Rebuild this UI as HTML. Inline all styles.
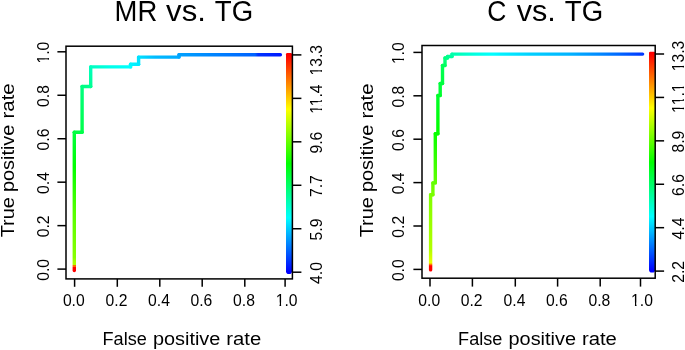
<!DOCTYPE html>
<html><head><meta charset="utf-8"><style>
html,body{margin:0;padding:0;background:#fff;width:685px;height:350px;overflow:hidden;}
svg{display:block;font-family:"Liberation Sans", sans-serif;will-change:transform;}
</style></head><body><svg width="685" height="350" viewBox="0 0 685 350" font-family='"Liberation Sans", sans-serif'><defs><linearGradient id="g1" gradientUnits="userSpaceOnUse" x1="74.3" y1="270.5" x2="74.3" y2="132.3"><stop offset="0.0000" stop-color="#ff0000"/><stop offset="0.0213" stop-color="#ff0000"/><stop offset="0.0217" stop-color="#ff0000"/><stop offset="0.0239" stop-color="#ff6a00"/><stop offset="0.0362" stop-color="#ff6a00"/><stop offset="0.0391" stop-color="#b2ff00"/><stop offset="0.0426" stop-color="#b1ff00"/><stop offset="0.0615" stop-color="#aaff00"/><stop offset="0.0638" stop-color="#a8ff00"/><stop offset="0.0851" stop-color="#91ff00"/><stop offset="0.0941" stop-color="#88ff00"/><stop offset="0.1064" stop-color="#86ff00"/><stop offset="0.1277" stop-color="#83ff00"/><stop offset="0.1489" stop-color="#80ff00"/><stop offset="0.1702" stop-color="#7cff00"/><stop offset="0.1915" stop-color="#79ff00"/><stop offset="0.2128" stop-color="#76ff00"/><stop offset="0.2340" stop-color="#73ff00"/><stop offset="0.2553" stop-color="#6fff00"/><stop offset="0.2766" stop-color="#6cff00"/><stop offset="0.2979" stop-color="#69ff00"/><stop offset="0.3191" stop-color="#66ff00"/><stop offset="0.3404" stop-color="#62ff00"/><stop offset="0.3617" stop-color="#5fff00"/><stop offset="0.3830" stop-color="#5cff00"/><stop offset="0.4043" stop-color="#58ff00"/><stop offset="0.4255" stop-color="#55ff00"/><stop offset="0.4269" stop-color="#55ff00"/><stop offset="0.4468" stop-color="#50ff00"/><stop offset="0.4681" stop-color="#4aff00"/><stop offset="0.4894" stop-color="#45ff00"/><stop offset="0.5106" stop-color="#3fff00"/><stop offset="0.5319" stop-color="#3aff00"/><stop offset="0.5532" stop-color="#34ff00"/><stop offset="0.5745" stop-color="#2fff00"/><stop offset="0.5957" stop-color="#29ff00"/><stop offset="0.6170" stop-color="#24ff00"/><stop offset="0.6383" stop-color="#1eff00"/><stop offset="0.6596" stop-color="#19ff00"/><stop offset="0.6809" stop-color="#13ff00"/><stop offset="0.7021" stop-color="#0eff00"/><stop offset="0.7234" stop-color="#08ff00"/><stop offset="0.7447" stop-color="#03ff00"/><stop offset="0.7660" stop-color="#00ff03"/><stop offset="0.7872" stop-color="#00ff09"/><stop offset="0.8085" stop-color="#00ff0e"/><stop offset="0.8298" stop-color="#00ff14"/><stop offset="0.8511" stop-color="#00ff19"/><stop offset="0.8723" stop-color="#00ff1f"/><stop offset="0.8936" stop-color="#00ff24"/><stop offset="0.9149" stop-color="#00ff2a"/><stop offset="0.9362" stop-color="#00ff2f"/><stop offset="0.9574" stop-color="#00ff35"/><stop offset="0.9787" stop-color="#00ff3a"/><stop offset="1.0000" stop-color="#00ff40"/></linearGradient><linearGradient id="g2" gradientUnits="userSpaceOnUse" x1="74.3" y1="132.3" x2="82.1" y2="132.3"><stop offset="0.0000" stop-color="#00ff40"/><stop offset="0.3333" stop-color="#00ff43"/><stop offset="0.6667" stop-color="#00ff46"/><stop offset="1.0000" stop-color="#00ff49"/></linearGradient><linearGradient id="g3" gradientUnits="userSpaceOnUse" x1="82.1" y1="132.3" x2="82.1" y2="86.5"><stop offset="0.0000" stop-color="#00ff49"/><stop offset="0.0625" stop-color="#00ff4c"/><stop offset="0.1250" stop-color="#00ff50"/><stop offset="0.1875" stop-color="#00ff53"/><stop offset="0.2500" stop-color="#00ff57"/><stop offset="0.3125" stop-color="#00ff5a"/><stop offset="0.3750" stop-color="#00ff5d"/><stop offset="0.4375" stop-color="#00ff61"/><stop offset="0.5000" stop-color="#00ff64"/><stop offset="0.5625" stop-color="#00ff68"/><stop offset="0.6250" stop-color="#00ff6b"/><stop offset="0.6875" stop-color="#00ff6e"/><stop offset="0.7500" stop-color="#00ff72"/><stop offset="0.8125" stop-color="#00ff75"/><stop offset="0.8750" stop-color="#00ff79"/><stop offset="0.9375" stop-color="#00ff7c"/><stop offset="1.0000" stop-color="#00ff80"/></linearGradient><linearGradient id="g4" gradientUnits="userSpaceOnUse" x1="82.1" y1="86.5" x2="90.7" y2="86.5"><stop offset="0.0000" stop-color="#00ff80"/><stop offset="0.3333" stop-color="#00ff86"/><stop offset="0.6667" stop-color="#00ff8c"/><stop offset="1.0000" stop-color="#00ff93"/></linearGradient><linearGradient id="g5" gradientUnits="userSpaceOnUse" x1="90.7" y1="86.5" x2="90.7" y2="66.9"><stop offset="0.0000" stop-color="#00ff93"/><stop offset="0.1429" stop-color="#00ff99"/><stop offset="0.2857" stop-color="#00ffa0"/><stop offset="0.4286" stop-color="#00ffa6"/><stop offset="0.5714" stop-color="#00ffac"/><stop offset="0.7143" stop-color="#00ffb3"/><stop offset="0.8571" stop-color="#00ffb9"/><stop offset="1.0000" stop-color="#00ffbf"/></linearGradient><linearGradient id="g6" gradientUnits="userSpaceOnUse" x1="90.7" y1="66.9" x2="130.6" y2="66.9"><stop offset="0.0000" stop-color="#00ffbf"/><stop offset="0.0714" stop-color="#00ffc5"/><stop offset="0.1429" stop-color="#00ffcb"/><stop offset="0.2143" stop-color="#00ffd1"/><stop offset="0.2857" stop-color="#00ffd7"/><stop offset="0.3571" stop-color="#00ffde"/><stop offset="0.4286" stop-color="#00ffe4"/><stop offset="0.5000" stop-color="#00ffea"/><stop offset="0.5013" stop-color="#00ffea"/><stop offset="0.5714" stop-color="#00ffed"/><stop offset="0.6429" stop-color="#00fff0"/><stop offset="0.7143" stop-color="#00fff3"/><stop offset="0.7857" stop-color="#00fff6"/><stop offset="0.8571" stop-color="#00fff9"/><stop offset="0.9286" stop-color="#00fffc"/><stop offset="1.0000" stop-color="#00ffff"/></linearGradient><linearGradient id="g7" gradientUnits="userSpaceOnUse" x1="130.6" y1="66.9" x2="130.6" y2="64.2"><stop offset="0.0000" stop-color="#00ffff"/><stop offset="0.5000" stop-color="#00fbff"/><stop offset="1.0000" stop-color="#00f7ff"/></linearGradient><linearGradient id="g8" gradientUnits="userSpaceOnUse" x1="130.6" y1="64.2" x2="138.6" y2="64.2"><stop offset="0.0000" stop-color="#00f7ff"/><stop offset="0.3333" stop-color="#00f2ff"/><stop offset="0.6667" stop-color="#00eeff"/><stop offset="1.0000" stop-color="#00eaff"/></linearGradient><linearGradient id="g9" gradientUnits="userSpaceOnUse" x1="138.6" y1="64.2" x2="138.6" y2="57.1"><stop offset="0.0000" stop-color="#00eaff"/><stop offset="0.3333" stop-color="#00e7ff"/><stop offset="0.6667" stop-color="#00e4ff"/><stop offset="1.0000" stop-color="#00e1ff"/></linearGradient><linearGradient id="g10" gradientUnits="userSpaceOnUse" x1="138.6" y1="57.1" x2="179" y2="57.1"><stop offset="0.0000" stop-color="#00e1ff"/><stop offset="0.0714" stop-color="#00dbff"/><stop offset="0.1429" stop-color="#00d4ff"/><stop offset="0.2143" stop-color="#00cdff"/><stop offset="0.2857" stop-color="#00c6ff"/><stop offset="0.3571" stop-color="#00c0ff"/><stop offset="0.4059" stop-color="#00bbff"/><stop offset="0.4286" stop-color="#00baff"/><stop offset="0.5000" stop-color="#00b8ff"/><stop offset="0.5714" stop-color="#00b6ff"/><stop offset="0.6429" stop-color="#00b4ff"/><stop offset="0.7143" stop-color="#00b2ff"/><stop offset="0.7857" stop-color="#00b0ff"/><stop offset="0.8571" stop-color="#00aeff"/><stop offset="0.9286" stop-color="#00acff"/><stop offset="1.0000" stop-color="#00aaff"/></linearGradient><linearGradient id="g11" gradientUnits="userSpaceOnUse" x1="179" y1="57.1" x2="179" y2="54.7"><stop offset="0.0000" stop-color="#00aaff"/><stop offset="0.5000" stop-color="#00a6ff"/><stop offset="1.0000" stop-color="#00a2ff"/></linearGradient><linearGradient id="g12" gradientUnits="userSpaceOnUse" x1="179" y1="54.7" x2="280.4" y2="54.7"><stop offset="0.0000" stop-color="#00a2ff"/><stop offset="0.0294" stop-color="#009fff"/><stop offset="0.0588" stop-color="#009cff"/><stop offset="0.0882" stop-color="#009aff"/><stop offset="0.1176" stop-color="#0097ff"/><stop offset="0.1471" stop-color="#0095ff"/><stop offset="0.1765" stop-color="#0092ff"/><stop offset="0.2059" stop-color="#0090ff"/><stop offset="0.2353" stop-color="#008dff"/><stop offset="0.2647" stop-color="#008bff"/><stop offset="0.2941" stop-color="#0088ff"/><stop offset="0.3235" stop-color="#0086ff"/><stop offset="0.3529" stop-color="#0083ff"/><stop offset="0.3824" stop-color="#0081ff"/><stop offset="0.4118" stop-color="#007eff"/><stop offset="0.4412" stop-color="#007cff"/><stop offset="0.4706" stop-color="#0079ff"/><stop offset="0.5000" stop-color="#0077ff"/><stop offset="0.5294" stop-color="#0074ff"/><stop offset="0.5588" stop-color="#0072ff"/><stop offset="0.5882" stop-color="#006fff"/><stop offset="0.6176" stop-color="#006dff"/><stop offset="0.6471" stop-color="#006aff"/><stop offset="0.6765" stop-color="#0068ff"/><stop offset="0.7059" stop-color="#0065ff"/><stop offset="0.7353" stop-color="#0063ff"/><stop offset="0.7495" stop-color="#0062ff"/><stop offset="0.7647" stop-color="#004aff"/><stop offset="0.7791" stop-color="#0033ff"/><stop offset="0.7941" stop-color="#0031ff"/><stop offset="0.8235" stop-color="#002eff"/><stop offset="0.8529" stop-color="#002aff"/><stop offset="0.8824" stop-color="#0027ff"/><stop offset="0.9118" stop-color="#0024ff"/><stop offset="0.9412" stop-color="#0020ff"/><stop offset="0.9706" stop-color="#001dff"/><stop offset="1.0000" stop-color="#0019ff"/></linearGradient><linearGradient id="cb13" gradientUnits="userSpaceOnUse" x1="0" y1="54.9" x2="0" y2="272.2"><stop offset="0" stop-color="#ff0000"/><stop offset="0.25" stop-color="#ffff00"/><stop offset="0.5" stop-color="#00ff00"/><stop offset="0.75" stop-color="#00ffff"/><stop offset="1" stop-color="#0000ff"/></linearGradient><linearGradient id="g14" gradientUnits="userSpaceOnUse" x1="430.6" y1="269.9" x2="430.6" y2="194.7"><stop offset="0.0000" stop-color="#ff0000"/><stop offset="0.0385" stop-color="#ff0000"/><stop offset="0.0532" stop-color="#ff0000"/><stop offset="0.0731" stop-color="#ff8000"/><stop offset="0.0769" stop-color="#ff9c00"/><stop offset="0.0931" stop-color="#eaff00"/><stop offset="0.1154" stop-color="#e3ff00"/><stop offset="0.1538" stop-color="#d6ff00"/><stop offset="0.1923" stop-color="#caff00"/><stop offset="0.2308" stop-color="#beff00"/><stop offset="0.2660" stop-color="#b2ff00"/><stop offset="0.2692" stop-color="#b2ff00"/><stop offset="0.3077" stop-color="#b0ff00"/><stop offset="0.3462" stop-color="#adff00"/><stop offset="0.3846" stop-color="#aaff00"/><stop offset="0.4231" stop-color="#a8ff00"/><stop offset="0.4615" stop-color="#a5ff00"/><stop offset="0.5000" stop-color="#a2ff00"/><stop offset="0.5385" stop-color="#a0ff00"/><stop offset="0.5769" stop-color="#9dff00"/><stop offset="0.6154" stop-color="#9aff00"/><stop offset="0.6538" stop-color="#98ff00"/><stop offset="0.6923" stop-color="#95ff00"/><stop offset="0.7308" stop-color="#92ff00"/><stop offset="0.7692" stop-color="#90ff00"/><stop offset="0.8077" stop-color="#8dff00"/><stop offset="0.8462" stop-color="#8aff00"/><stop offset="0.8846" stop-color="#88ff00"/><stop offset="0.9231" stop-color="#85ff00"/><stop offset="0.9615" stop-color="#82ff00"/><stop offset="1.0000" stop-color="#80ff00"/></linearGradient><linearGradient id="g15" gradientUnits="userSpaceOnUse" x1="430.6" y1="194.7" x2="432.9" y2="194.7"><stop offset="0.0000" stop-color="#80ff00"/><stop offset="0.5000" stop-color="#7dff00"/><stop offset="1.0000" stop-color="#7bff00"/></linearGradient><linearGradient id="g16" gradientUnits="userSpaceOnUse" x1="432.9" y1="194.7" x2="432.9" y2="182.9"><stop offset="0.0000" stop-color="#7bff00"/><stop offset="0.2500" stop-color="#76ff00"/><stop offset="0.5000" stop-color="#71ff00"/><stop offset="0.7500" stop-color="#6bff00"/><stop offset="1.0000" stop-color="#66ff00"/></linearGradient><linearGradient id="g17" gradientUnits="userSpaceOnUse" x1="432.9" y1="182.9" x2="435.3" y2="182.9"><stop offset="0.0000" stop-color="#66ff00"/><stop offset="0.5000" stop-color="#64ff00"/><stop offset="1.0000" stop-color="#62ff00"/></linearGradient><linearGradient id="g18" gradientUnits="userSpaceOnUse" x1="435.3" y1="182.9" x2="435.3" y2="133.8"><stop offset="0.0000" stop-color="#62ff00"/><stop offset="0.0588" stop-color="#5cff00"/><stop offset="0.1176" stop-color="#57ff00"/><stop offset="0.1765" stop-color="#52ff00"/><stop offset="0.2353" stop-color="#4dff00"/><stop offset="0.2941" stop-color="#47ff00"/><stop offset="0.3529" stop-color="#42ff00"/><stop offset="0.4118" stop-color="#3dff00"/><stop offset="0.4706" stop-color="#38ff00"/><stop offset="0.5294" stop-color="#32ff00"/><stop offset="0.5882" stop-color="#2dff00"/><stop offset="0.6471" stop-color="#28ff00"/><stop offset="0.7059" stop-color="#23ff00"/><stop offset="0.7647" stop-color="#1dff00"/><stop offset="0.8235" stop-color="#18ff00"/><stop offset="0.8824" stop-color="#13ff00"/><stop offset="0.9412" stop-color="#0eff00"/><stop offset="1.0000" stop-color="#08ff00"/></linearGradient><linearGradient id="g19" gradientUnits="userSpaceOnUse" x1="435.3" y1="133.8" x2="437.9" y2="133.8"><stop offset="0.0000" stop-color="#08ff00"/><stop offset="0.5000" stop-color="#07ff00"/><stop offset="1.0000" stop-color="#05ff00"/></linearGradient><linearGradient id="g20" gradientUnits="userSpaceOnUse" x1="437.9" y1="133.8" x2="437.9" y2="95.5"><stop offset="0.0000" stop-color="#05ff00"/><stop offset="0.0769" stop-color="#02ff00"/><stop offset="0.1538" stop-color="#00ff02"/><stop offset="0.2308" stop-color="#00ff06"/><stop offset="0.3077" stop-color="#00ff09"/><stop offset="0.3846" stop-color="#00ff0d"/><stop offset="0.4615" stop-color="#00ff11"/><stop offset="0.5385" stop-color="#00ff14"/><stop offset="0.6154" stop-color="#00ff18"/><stop offset="0.6923" stop-color="#00ff1c"/><stop offset="0.7692" stop-color="#00ff1f"/><stop offset="0.8462" stop-color="#00ff23"/><stop offset="0.9231" stop-color="#00ff27"/><stop offset="1.0000" stop-color="#00ff2a"/></linearGradient><linearGradient id="g21" gradientUnits="userSpaceOnUse" x1="437.9" y1="95.5" x2="440.2" y2="95.5"><stop offset="0.0000" stop-color="#00ff2a"/><stop offset="0.5000" stop-color="#00ff2c"/><stop offset="1.0000" stop-color="#00ff2d"/></linearGradient><linearGradient id="g22" gradientUnits="userSpaceOnUse" x1="440.2" y1="95.5" x2="440.2" y2="83.5"><stop offset="0.0000" stop-color="#00ff2d"/><stop offset="0.2000" stop-color="#00ff30"/><stop offset="0.4000" stop-color="#00ff33"/><stop offset="0.6000" stop-color="#00ff36"/><stop offset="0.8000" stop-color="#00ff39"/><stop offset="1.0000" stop-color="#00ff3c"/></linearGradient><linearGradient id="g23" gradientUnits="userSpaceOnUse" x1="440.2" y1="83.5" x2="442.5" y2="83.5"><stop offset="0.0000" stop-color="#00ff3c"/><stop offset="0.5000" stop-color="#00ff3d"/><stop offset="1.0000" stop-color="#00ff3f"/></linearGradient><linearGradient id="g24" gradientUnits="userSpaceOnUse" x1="442.5" y1="83.5" x2="442.5" y2="65.5"><stop offset="0.0000" stop-color="#00ff3f"/><stop offset="0.1429" stop-color="#00ff42"/><stop offset="0.2857" stop-color="#00ff45"/><stop offset="0.4286" stop-color="#00ff48"/><stop offset="0.5714" stop-color="#00ff4c"/><stop offset="0.7143" stop-color="#00ff4f"/><stop offset="0.8571" stop-color="#00ff52"/><stop offset="1.0000" stop-color="#00ff55"/></linearGradient><linearGradient id="g25" gradientUnits="userSpaceOnUse" x1="442.5" y1="65.5" x2="445" y2="65.5"><stop offset="0.0000" stop-color="#00ff55"/><stop offset="0.5000" stop-color="#00ff5a"/><stop offset="1.0000" stop-color="#00ff5f"/></linearGradient><linearGradient id="g26" gradientUnits="userSpaceOnUse" x1="445" y1="65.5" x2="445" y2="58"><stop offset="0.0000" stop-color="#00ff5f"/><stop offset="0.3333" stop-color="#00ff69"/><stop offset="0.6667" stop-color="#00ff74"/><stop offset="1.0000" stop-color="#00ff7e"/></linearGradient><linearGradient id="g27" gradientUnits="userSpaceOnUse" x1="445" y1="58" x2="447.5" y2="58"><stop offset="0.0000" stop-color="#00ff7e"/><stop offset="0.5000" stop-color="#00ff83"/><stop offset="1.0000" stop-color="#00ff88"/></linearGradient><linearGradient id="g28" gradientUnits="userSpaceOnUse" x1="447.5" y1="58" x2="447.5" y2="56.5"><stop offset="0.0000" stop-color="#00ff88"/><stop offset="0.5000" stop-color="#00ff8b"/><stop offset="1.0000" stop-color="#00ff8e"/></linearGradient><linearGradient id="g29" gradientUnits="userSpaceOnUse" x1="447.5" y1="56.5" x2="452" y2="56.5"><stop offset="0.0000" stop-color="#00ff8e"/><stop offset="0.5000" stop-color="#00ff97"/><stop offset="1.0000" stop-color="#00ffa0"/></linearGradient><linearGradient id="g30" gradientUnits="userSpaceOnUse" x1="452" y1="56.5" x2="452" y2="54.1"><stop offset="0.0000" stop-color="#00ffa0"/><stop offset="0.5000" stop-color="#00ffa5"/><stop offset="1.0000" stop-color="#00ffaa"/></linearGradient><linearGradient id="g31" gradientUnits="userSpaceOnUse" x1="452" y1="54.1" x2="642.6" y2="54.1"><stop offset="0.0000" stop-color="#00ffaa"/><stop offset="0.0156" stop-color="#00ffb1"/><stop offset="0.0312" stop-color="#00ffb8"/><stop offset="0.0469" stop-color="#00ffbf"/><stop offset="0.0625" stop-color="#00ffc7"/><stop offset="0.0781" stop-color="#00ffce"/><stop offset="0.0938" stop-color="#00ffd5"/><stop offset="0.1094" stop-color="#00ffdc"/><stop offset="0.1207" stop-color="#00ffe1"/><stop offset="0.1250" stop-color="#00ffe3"/><stop offset="0.1406" stop-color="#00ffe8"/><stop offset="0.1562" stop-color="#00ffed"/><stop offset="0.1719" stop-color="#00fff2"/><stop offset="0.1875" stop-color="#00fff7"/><stop offset="0.2031" stop-color="#00fffc"/><stop offset="0.2188" stop-color="#00fdff"/><stop offset="0.2344" stop-color="#00f8ff"/><stop offset="0.2500" stop-color="#00f3ff"/><stop offset="0.2518" stop-color="#00f2ff"/><stop offset="0.2656" stop-color="#00efff"/><stop offset="0.2812" stop-color="#00ecff"/><stop offset="0.2969" stop-color="#00e9ff"/><stop offset="0.3125" stop-color="#00e5ff"/><stop offset="0.3281" stop-color="#00e2ff"/><stop offset="0.3438" stop-color="#00deff"/><stop offset="0.3594" stop-color="#00dbff"/><stop offset="0.3750" stop-color="#00d8ff"/><stop offset="0.3906" stop-color="#00d4ff"/><stop offset="0.4062" stop-color="#00d1ff"/><stop offset="0.4092" stop-color="#00d0ff"/><stop offset="0.4219" stop-color="#00ceff"/><stop offset="0.4375" stop-color="#00ccff"/><stop offset="0.4531" stop-color="#00caff"/><stop offset="0.4688" stop-color="#00c8ff"/><stop offset="0.4844" stop-color="#00c6ff"/><stop offset="0.5000" stop-color="#00c3ff"/><stop offset="0.5156" stop-color="#00c1ff"/><stop offset="0.5312" stop-color="#00bfff"/><stop offset="0.5469" stop-color="#00bdff"/><stop offset="0.5625" stop-color="#00bbff"/><stop offset="0.5781" stop-color="#00b8ff"/><stop offset="0.5938" stop-color="#00b6ff"/><stop offset="0.6094" stop-color="#00b4ff"/><stop offset="0.6191" stop-color="#00b2ff"/><stop offset="0.6250" stop-color="#00b1ff"/><stop offset="0.6406" stop-color="#00adff"/><stop offset="0.6562" stop-color="#00a8ff"/><stop offset="0.6719" stop-color="#00a4ff"/><stop offset="0.6875" stop-color="#00a0ff"/><stop offset="0.7031" stop-color="#009cff"/><stop offset="0.7188" stop-color="#0098ff"/><stop offset="0.7344" stop-color="#0093ff"/><stop offset="0.7500" stop-color="#008fff"/><stop offset="0.7656" stop-color="#008bff"/><stop offset="0.7765" stop-color="#0088ff"/><stop offset="0.7812" stop-color="#0086ff"/><stop offset="0.7969" stop-color="#0081ff"/><stop offset="0.8125" stop-color="#007cff"/><stop offset="0.8281" stop-color="#0077ff"/><stop offset="0.8438" stop-color="#0072ff"/><stop offset="0.8594" stop-color="#006dff"/><stop offset="0.8750" stop-color="#0068ff"/><stop offset="0.8814" stop-color="#0066ff"/><stop offset="0.8906" stop-color="#0062ff"/><stop offset="0.9062" stop-color="#005cff"/><stop offset="0.9219" stop-color="#0056ff"/><stop offset="0.9375" stop-color="#0050ff"/><stop offset="0.9531" stop-color="#004aff"/><stop offset="0.9688" stop-color="#0044ff"/><stop offset="0.9844" stop-color="#003dff"/><stop offset="1.0000" stop-color="#0037ff"/></linearGradient><linearGradient id="cb32" gradientUnits="userSpaceOnUse" x1="0" y1="53.6" x2="0" y2="270.9"><stop offset="0" stop-color="#ff0000"/><stop offset="0.25" stop-color="#ffff00"/><stop offset="0.5" stop-color="#00ff00"/><stop offset="0.75" stop-color="#00ffff"/><stop offset="1" stop-color="#0000ff"/></linearGradient></defs><rect width="685" height="350" fill="#fff"/><line x1="74.3" y1="270.5" x2="74.3" y2="132.3" stroke="url(#g1)" stroke-width="3.4" stroke-linecap="round"/><line x1="74.3" y1="132.3" x2="82.1" y2="132.3" stroke="url(#g2)" stroke-width="3.4" stroke-linecap="round"/><line x1="82.1" y1="132.3" x2="82.1" y2="86.5" stroke="url(#g3)" stroke-width="3.4" stroke-linecap="round"/><line x1="82.1" y1="86.5" x2="90.7" y2="86.5" stroke="url(#g4)" stroke-width="3.4" stroke-linecap="round"/><line x1="90.7" y1="86.5" x2="90.7" y2="66.9" stroke="url(#g5)" stroke-width="3.4" stroke-linecap="round"/><line x1="90.7" y1="66.9" x2="130.6" y2="66.9" stroke="url(#g6)" stroke-width="3.4" stroke-linecap="round"/><line x1="130.6" y1="66.9" x2="130.6" y2="64.2" stroke="url(#g7)" stroke-width="3.4" stroke-linecap="round"/><line x1="130.6" y1="64.2" x2="138.6" y2="64.2" stroke="url(#g8)" stroke-width="3.4" stroke-linecap="round"/><line x1="138.6" y1="64.2" x2="138.6" y2="57.1" stroke="url(#g9)" stroke-width="3.4" stroke-linecap="round"/><line x1="138.6" y1="57.1" x2="179" y2="57.1" stroke="url(#g10)" stroke-width="3.4" stroke-linecap="round"/><line x1="179" y1="57.1" x2="179" y2="54.7" stroke="url(#g11)" stroke-width="3.4" stroke-linecap="round"/><line x1="179" y1="54.7" x2="280.4" y2="54.7" stroke="url(#g12)" stroke-width="3.4" stroke-linecap="round"/><path d="M287.2,53 H290.8 Q292,53 292,54.2 V271.2 Q292,274 289.2,274 H288.8 Q286,274 286,271.2 V54.2 Q286,53 287.2,53 Z" fill="url(#cb13)"/><rect x="66" y="46.2" width="226.39999999999998" height="232.7" fill="none" stroke="#000" stroke-width="1.5"/><line x1="66" y1="269.1" x2="57.4" y2="269.1" stroke="#000" stroke-width="1.5" stroke-linecap="butt"/><g transform="translate(48.70 269.90) rotate(-90)"><text x="-10.91" y="0" font-size="16.3" textLength="21.83" lengthAdjust="spacingAndGlyphs">0.0</text></g><line x1="66" y1="225.64" x2="57.4" y2="225.64" stroke="#000" stroke-width="1.5" stroke-linecap="butt"/><g transform="translate(48.70 226.44) rotate(-90)"><text x="-10.91" y="0" font-size="16.3" textLength="21.83" lengthAdjust="spacingAndGlyphs">0.2</text></g><line x1="66" y1="182.18" x2="57.4" y2="182.18" stroke="#000" stroke-width="1.5" stroke-linecap="butt"/><g transform="translate(48.70 182.98) rotate(-90)"><text x="-10.91" y="0" font-size="16.3" textLength="21.83" lengthAdjust="spacingAndGlyphs">0.4</text></g><line x1="66" y1="138.72" x2="57.4" y2="138.72" stroke="#000" stroke-width="1.5" stroke-linecap="butt"/><g transform="translate(48.70 139.52) rotate(-90)"><text x="-10.91" y="0" font-size="16.3" textLength="21.83" lengthAdjust="spacingAndGlyphs">0.6</text></g><line x1="66" y1="95.26" x2="57.4" y2="95.26" stroke="#000" stroke-width="1.5" stroke-linecap="butt"/><g transform="translate(48.70 96.06) rotate(-90)"><text x="-10.91" y="0" font-size="16.3" textLength="21.83" lengthAdjust="spacingAndGlyphs">0.8</text></g><line x1="66" y1="51.8" x2="57.4" y2="51.8" stroke="#000" stroke-width="1.5" stroke-linecap="butt"/><g transform="translate(48.70 52.60) rotate(-90)"><text x="-10.91" y="0" font-size="16.3" textLength="21.83" lengthAdjust="spacingAndGlyphs">1.0</text><rect x="-10.45" y="-4.08" width="3.40" height="5.08" fill="#fff"/><rect x="-5.49" y="-4.08" width="3.24" height="5.08" fill="#fff"/></g><line x1="74.6" y1="278.9" x2="74.6" y2="286.79999999999995" stroke="#000" stroke-width="1.5" stroke-linecap="butt"/><g transform="translate(73.80 306.40)"><text x="-10.91" y="0" font-size="15.7">0.0</text></g><line x1="117.3" y1="278.9" x2="117.3" y2="286.79999999999995" stroke="#000" stroke-width="1.5" stroke-linecap="butt"/><g transform="translate(116.50 306.40)"><text x="-10.91" y="0" font-size="15.7">0.2</text></g><line x1="159.8" y1="278.9" x2="159.8" y2="286.79999999999995" stroke="#000" stroke-width="1.5" stroke-linecap="butt"/><g transform="translate(159.00 306.40)"><text x="-10.91" y="0" font-size="15.7">0.4</text></g><line x1="202.2" y1="278.9" x2="202.2" y2="286.79999999999995" stroke="#000" stroke-width="1.5" stroke-linecap="butt"/><g transform="translate(201.40 306.40)"><text x="-10.91" y="0" font-size="15.7">0.6</text></g><line x1="244.8" y1="278.9" x2="244.8" y2="286.79999999999995" stroke="#000" stroke-width="1.5" stroke-linecap="butt"/><g transform="translate(244.00 306.40)"><text x="-10.91" y="0" font-size="15.7">0.8</text></g><line x1="285.1" y1="278.9" x2="285.1" y2="286.79999999999995" stroke="#000" stroke-width="1.5" stroke-linecap="butt"/><g transform="translate(286.60 306.40)"><text x="-10.91" y="0" font-size="15.7">1.0</text><rect x="-10.45" y="-3.92" width="3.40" height="4.92" fill="#fff"/><rect x="-5.49" y="-3.92" width="3.24" height="4.92" fill="#fff"/></g><line x1="292.4" y1="272.2" x2="301.4" y2="272.2" stroke="#000" stroke-width="1.5" stroke-linecap="butt"/><g transform="translate(321.90 273.00) rotate(-90)"><text x="-10.91" y="0" font-size="16.3" textLength="21.83" lengthAdjust="spacingAndGlyphs">4.0</text></g><line x1="292.4" y1="228.74" x2="301.4" y2="228.74" stroke="#000" stroke-width="1.5" stroke-linecap="butt"/><g transform="translate(321.90 229.54) rotate(-90)"><text x="-10.91" y="0" font-size="16.3" textLength="21.83" lengthAdjust="spacingAndGlyphs">5.9</text></g><line x1="292.4" y1="185.28" x2="301.4" y2="185.28" stroke="#000" stroke-width="1.5" stroke-linecap="butt"/><g transform="translate(321.90 186.08) rotate(-90)"><text x="-10.91" y="0" font-size="16.3" textLength="21.83" lengthAdjust="spacingAndGlyphs">7.7</text></g><line x1="292.4" y1="141.82" x2="301.4" y2="141.82" stroke="#000" stroke-width="1.5" stroke-linecap="butt"/><g transform="translate(321.90 142.62) rotate(-90)"><text x="-10.91" y="0" font-size="16.3" textLength="21.83" lengthAdjust="spacingAndGlyphs">9.6</text></g><line x1="292.4" y1="98.36" x2="301.4" y2="98.36" stroke="#000" stroke-width="1.5" stroke-linecap="butt"/><g transform="translate(321.90 99.16) rotate(-90)"><text x="-14.70" y="0" font-size="16.3" textLength="29.39" lengthAdjust="spacingAndGlyphs">11.4</text><rect x="-14.25" y="-4.08" width="3.27" height="5.08" fill="#fff"/><rect x="-9.48" y="-4.08" width="3.11" height="5.08" fill="#fff"/><rect x="-5.85" y="-4.08" width="3.27" height="5.08" fill="#fff"/><rect x="-1.08" y="-4.08" width="3.11" height="5.08" fill="#fff"/></g><line x1="292.4" y1="54.9" x2="301.4" y2="54.9" stroke="#000" stroke-width="1.5" stroke-linecap="butt"/><g transform="translate(321.90 60.30) rotate(-90)"><text x="-15.28" y="0" font-size="16.3" textLength="30.56" lengthAdjust="spacingAndGlyphs">13.3</text><rect x="-14.82" y="-4.08" width="3.40" height="5.08" fill="#fff"/><rect x="-9.85" y="-4.08" width="3.24" height="5.08" fill="#fff"/></g><text x="114.55" y="20.90" font-size="29" text-anchor="start" textLength="42.69" lengthAdjust="spacingAndGlyphs" fill="#000">MR</text><text x="166.08" y="20.90" font-size="29" text-anchor="start" textLength="39.78" lengthAdjust="spacingAndGlyphs" fill="#000">vs.</text><text x="214.79" y="20.90" font-size="29" text-anchor="start" textLength="38.37" lengthAdjust="spacingAndGlyphs" fill="#000">TG</text><text x="102.52" y="344.90" font-size="18.9" text-anchor="start" textLength="44.27" lengthAdjust="spacingAndGlyphs" fill="#000">False</text><text x="152.93" y="344.90" font-size="18.9" text-anchor="start" textLength="67.46" lengthAdjust="spacingAndGlyphs" fill="#000">positive</text><text x="226.36" y="344.90" font-size="18.9" text-anchor="start" textLength="34.91" lengthAdjust="spacingAndGlyphs" fill="#000">rate</text><text x="14.30" y="237.34" font-size="18.9" text-anchor="start" textLength="40.24" lengthAdjust="spacingAndGlyphs" transform="rotate(-90 14.30 237.34)" fill="#000">True</text><text x="14.30" y="192.07" font-size="18.9" text-anchor="start" textLength="67.46" lengthAdjust="spacingAndGlyphs" transform="rotate(-90 14.30 192.07)" fill="#000">positive</text><text x="14.30" y="118.55" font-size="18.9" text-anchor="start" textLength="35.34" lengthAdjust="spacingAndGlyphs" transform="rotate(-90 14.30 118.55)" fill="#000">rate</text><line x1="430.6" y1="269.9" x2="430.6" y2="194.7" stroke="url(#g14)" stroke-width="3.4" stroke-linecap="round"/><line x1="430.6" y1="194.7" x2="432.9" y2="194.7" stroke="url(#g15)" stroke-width="3.4" stroke-linecap="round"/><line x1="432.9" y1="194.7" x2="432.9" y2="182.9" stroke="url(#g16)" stroke-width="3.4" stroke-linecap="round"/><line x1="432.9" y1="182.9" x2="435.3" y2="182.9" stroke="url(#g17)" stroke-width="3.4" stroke-linecap="round"/><line x1="435.3" y1="182.9" x2="435.3" y2="133.8" stroke="url(#g18)" stroke-width="3.4" stroke-linecap="round"/><line x1="435.3" y1="133.8" x2="437.9" y2="133.8" stroke="url(#g19)" stroke-width="3.4" stroke-linecap="round"/><line x1="437.9" y1="133.8" x2="437.9" y2="95.5" stroke="url(#g20)" stroke-width="3.4" stroke-linecap="round"/><line x1="437.9" y1="95.5" x2="440.2" y2="95.5" stroke="url(#g21)" stroke-width="3.4" stroke-linecap="round"/><line x1="440.2" y1="95.5" x2="440.2" y2="83.5" stroke="url(#g22)" stroke-width="3.4" stroke-linecap="round"/><line x1="440.2" y1="83.5" x2="442.5" y2="83.5" stroke="url(#g23)" stroke-width="3.4" stroke-linecap="round"/><line x1="442.5" y1="83.5" x2="442.5" y2="65.5" stroke="url(#g24)" stroke-width="3.4" stroke-linecap="round"/><line x1="442.5" y1="65.5" x2="445" y2="65.5" stroke="url(#g25)" stroke-width="3.4" stroke-linecap="round"/><line x1="445" y1="65.5" x2="445" y2="58" stroke="url(#g26)" stroke-width="3.4" stroke-linecap="round"/><line x1="445" y1="58" x2="447.5" y2="58" stroke="url(#g27)" stroke-width="3.4" stroke-linecap="round"/><line x1="447.5" y1="58" x2="447.5" y2="56.5" stroke="url(#g28)" stroke-width="3.4" stroke-linecap="round"/><line x1="447.5" y1="56.5" x2="452" y2="56.5" stroke="url(#g29)" stroke-width="3.4" stroke-linecap="round"/><line x1="452" y1="56.5" x2="452" y2="54.1" stroke="url(#g30)" stroke-width="3.4" stroke-linecap="round"/><line x1="452" y1="54.1" x2="642.6" y2="54.1" stroke="url(#g31)" stroke-width="3.4" stroke-linecap="round"/><path d="M650.2,51.8 H654.0 Q655.2,51.8 655.2,53.0 V269.7 Q655.2,272.5 652.4000000000001,272.5 H651.8 Q649,272.5 649,269.7 V53.0 Q649,51.8 650.2,51.8 Z" fill="url(#cb32)"/><rect x="422" y="45.5" width="233.20000000000005" height="232.7" fill="none" stroke="#000" stroke-width="1.5"/><line x1="422" y1="269.4" x2="413.4" y2="269.4" stroke="#000" stroke-width="1.5" stroke-linecap="butt"/><g transform="translate(404.20 270.20) rotate(-90)"><text x="-10.91" y="0" font-size="16.3" textLength="21.83" lengthAdjust="spacingAndGlyphs">0.0</text></g><line x1="422" y1="226.0" x2="413.4" y2="226.0" stroke="#000" stroke-width="1.5" stroke-linecap="butt"/><g transform="translate(404.20 226.80) rotate(-90)"><text x="-10.91" y="0" font-size="16.3" textLength="21.83" lengthAdjust="spacingAndGlyphs">0.2</text></g><line x1="422" y1="182.6" x2="413.4" y2="182.6" stroke="#000" stroke-width="1.5" stroke-linecap="butt"/><g transform="translate(404.20 183.40) rotate(-90)"><text x="-10.91" y="0" font-size="16.3" textLength="21.83" lengthAdjust="spacingAndGlyphs">0.4</text></g><line x1="422" y1="139.2" x2="413.4" y2="139.2" stroke="#000" stroke-width="1.5" stroke-linecap="butt"/><g transform="translate(404.20 140.00) rotate(-90)"><text x="-10.91" y="0" font-size="16.3" textLength="21.83" lengthAdjust="spacingAndGlyphs">0.6</text></g><line x1="422" y1="95.8" x2="413.4" y2="95.8" stroke="#000" stroke-width="1.5" stroke-linecap="butt"/><g transform="translate(404.20 96.60) rotate(-90)"><text x="-10.91" y="0" font-size="16.3" textLength="21.83" lengthAdjust="spacingAndGlyphs">0.8</text></g><line x1="422" y1="52.4" x2="413.4" y2="52.4" stroke="#000" stroke-width="1.5" stroke-linecap="butt"/><g transform="translate(404.20 53.20) rotate(-90)"><text x="-10.91" y="0" font-size="16.3" textLength="21.83" lengthAdjust="spacingAndGlyphs">1.0</text><rect x="-10.45" y="-4.08" width="3.40" height="5.08" fill="#fff"/><rect x="-5.49" y="-4.08" width="3.24" height="5.08" fill="#fff"/></g><line x1="430" y1="278.2" x2="430" y2="286.59999999999997" stroke="#000" stroke-width="1.5" stroke-linecap="butt"/><g transform="translate(429.20 306.40)"><text x="-10.91" y="0" font-size="15.7">0.0</text></g><line x1="472.4" y1="278.2" x2="472.4" y2="286.59999999999997" stroke="#000" stroke-width="1.5" stroke-linecap="butt"/><g transform="translate(471.60 306.40)"><text x="-10.91" y="0" font-size="15.7">0.2</text></g><line x1="515.3" y1="278.2" x2="515.3" y2="286.59999999999997" stroke="#000" stroke-width="1.5" stroke-linecap="butt"/><g transform="translate(514.50 306.40)"><text x="-10.91" y="0" font-size="15.7">0.4</text></g><line x1="557.6" y1="278.2" x2="557.6" y2="286.59999999999997" stroke="#000" stroke-width="1.5" stroke-linecap="butt"/><g transform="translate(556.80 306.40)"><text x="-10.91" y="0" font-size="15.7">0.6</text></g><line x1="600.2" y1="278.2" x2="600.2" y2="286.59999999999997" stroke="#000" stroke-width="1.5" stroke-linecap="butt"/><g transform="translate(599.40 306.40)"><text x="-10.91" y="0" font-size="15.7">0.8</text></g><line x1="640.5" y1="278.2" x2="640.5" y2="286.59999999999997" stroke="#000" stroke-width="1.5" stroke-linecap="butt"/><g transform="translate(642.00 306.40)"><text x="-10.91" y="0" font-size="15.7">1.0</text><rect x="-10.45" y="-3.92" width="3.40" height="4.92" fill="#fff"/><rect x="-5.49" y="-3.92" width="3.24" height="4.92" fill="#fff"/></g><line x1="655.2" y1="271.1" x2="664.1" y2="271.1" stroke="#000" stroke-width="1.5" stroke-linecap="butt"/><g transform="translate(684.00 271.90) rotate(-90)"><text x="-10.91" y="0" font-size="16.3" textLength="21.83" lengthAdjust="spacingAndGlyphs">2.2</text></g><line x1="655.2" y1="227.68" x2="664.1" y2="227.68" stroke="#000" stroke-width="1.5" stroke-linecap="butt"/><g transform="translate(684.00 228.48) rotate(-90)"><text x="-10.91" y="0" font-size="16.3" textLength="21.83" lengthAdjust="spacingAndGlyphs">4.4</text></g><line x1="655.2" y1="184.26" x2="664.1" y2="184.26" stroke="#000" stroke-width="1.5" stroke-linecap="butt"/><g transform="translate(684.00 185.06) rotate(-90)"><text x="-10.91" y="0" font-size="16.3" textLength="21.83" lengthAdjust="spacingAndGlyphs">6.6</text></g><line x1="655.2" y1="140.84" x2="664.1" y2="140.84" stroke="#000" stroke-width="1.5" stroke-linecap="butt"/><g transform="translate(684.00 141.64) rotate(-90)"><text x="-10.91" y="0" font-size="16.3" textLength="21.83" lengthAdjust="spacingAndGlyphs">8.9</text></g><line x1="655.2" y1="97.42" x2="664.1" y2="97.42" stroke="#000" stroke-width="1.5" stroke-linecap="butt"/><g transform="translate(684.00 98.22) rotate(-90)"><text x="-14.70" y="0" font-size="16.3" textLength="29.39" lengthAdjust="spacingAndGlyphs">11.1</text><rect x="-14.25" y="-4.08" width="3.27" height="5.08" fill="#fff"/><rect x="-9.48" y="-4.08" width="3.11" height="5.08" fill="#fff"/><rect x="-5.85" y="-4.08" width="3.27" height="5.08" fill="#fff"/><rect x="-1.08" y="-4.08" width="3.11" height="5.08" fill="#fff"/><rect x="6.74" y="-4.08" width="3.27" height="5.08" fill="#fff"/><rect x="11.52" y="-4.08" width="3.11" height="5.08" fill="#fff"/></g><line x1="655.2" y1="54.0" x2="664.1" y2="54.0" stroke="#000" stroke-width="1.5" stroke-linecap="butt"/><g transform="translate(684.00 56.00) rotate(-90)"><text x="-15.28" y="0" font-size="16.3" textLength="30.56" lengthAdjust="spacingAndGlyphs">13.3</text><rect x="-14.82" y="-4.08" width="3.40" height="5.08" fill="#fff"/><rect x="-9.85" y="-4.08" width="3.24" height="5.08" fill="#fff"/></g><text x="487.28" y="20.90" font-size="29" text-anchor="start" textLength="19.14" lengthAdjust="spacingAndGlyphs" fill="#000">C</text><text x="516.68" y="20.90" font-size="29" text-anchor="start" textLength="39.14" lengthAdjust="spacingAndGlyphs" fill="#000">vs.</text><text x="564.79" y="20.90" font-size="29" text-anchor="start" textLength="38.37" lengthAdjust="spacingAndGlyphs" fill="#000">TG</text><text x="458.12" y="344.90" font-size="18.9" text-anchor="start" textLength="44.27" lengthAdjust="spacingAndGlyphs" fill="#000">False</text><text x="508.53" y="344.90" font-size="18.9" text-anchor="start" textLength="67.46" lengthAdjust="spacingAndGlyphs" fill="#000">positive</text><text x="581.96" y="344.90" font-size="18.9" text-anchor="start" textLength="34.91" lengthAdjust="spacingAndGlyphs" fill="#000">rate</text><text x="373.00" y="237.34" font-size="18.9" text-anchor="start" textLength="40.24" lengthAdjust="spacingAndGlyphs" transform="rotate(-90 373.00 237.34)" fill="#000">True</text><text x="373.00" y="192.07" font-size="18.9" text-anchor="start" textLength="67.46" lengthAdjust="spacingAndGlyphs" transform="rotate(-90 373.00 192.07)" fill="#000">positive</text><text x="373.00" y="118.55" font-size="18.9" text-anchor="start" textLength="35.13" lengthAdjust="spacingAndGlyphs" transform="rotate(-90 373.00 118.55)" fill="#000">rate</text></svg></body></html>
